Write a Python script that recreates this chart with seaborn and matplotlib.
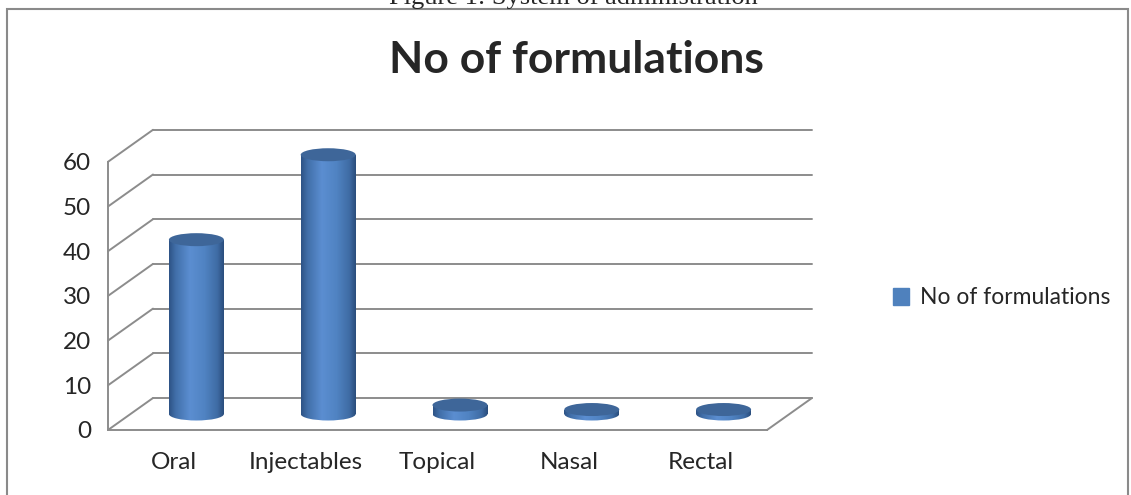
import numpy as np
import matplotlib.pyplot as plt
import matplotlib.patches as mpatches
import matplotlib.colors as mcolors
import seaborn as sns

# data
categories = ['Oral', 'Injectables', 'Topical', 'Nasal', 'Rectal']
formulations = [39, 58, 2, 1, 1]
y_ticks = [0, 10, 20, 30, 40, 50, 60]
series_name = 'No of formulations'
title = 'No of formulations'
caption = 'Figure 1: System of administration'

sns.set_style('white')
plt.rcParams['font.family'] = ['Lato', 'DejaVu Sans']

W, H = 1131, 495
fig = plt.figure(figsize=(W / 100, H / 100), dpi=100)

# pixel geometry of the fake 3D box
PX_CAT, PX_UNIT = 131.8, 4.47      # pixels per category / per unit
X0_PX, Y0_PX = 108, 430            # pixel of (x=-0.5, y=0)
L, T, R, B = 95, 115, 830, 445     # axes box in pixels
DX, DY = 45 / PX_CAT, 32 / PX_UNIT # depth offset in data units
grid_c = '#8c8c8c'

rect = [L / W, 1 - B / H, (R - L) / W, (B - T) / H]
xlim = (-0.5 - (X0_PX - L) / PX_CAT, -0.5 + (R - X0_PX) / PX_CAT)
ylim = ((Y0_PX - B) / PX_UNIT, (Y0_PX - T) / PX_UNIT)

ax = fig.add_axes(rect)
ax.set_xlim(xlim)
ax.set_ylim(ylim)
n = len(categories)

# back wall, side wall and floor
for t in y_ticks:
    ax.plot([-0.5 + DX, n - 0.5 + DX], [t + DY, t + DY], color=grid_c, lw=1.4, zorder=1)
    ax.plot([-0.5, -0.5 + DX], [t, t + DY], color=grid_c, lw=1.4, zorder=1)
ax.plot([n - 0.5, n - 0.5 + DX], [0, DY], color=grid_c, lw=1.4, zorder=1)

# axes spines as the front edges
for s in ['top', 'right']:
    ax.spines[s].set_visible(False)
ax.spines['left'].set_position(('data', -0.5))
ax.spines['left'].set_bounds(0, max(y_ticks))
ax.spines['bottom'].set_position(('data', 0))
ax.spines['bottom'].set_bounds(-0.5, n - 0.5)
for s in ['left', 'bottom']:
    ax.spines[s].set_color(grid_c)
    ax.spines[s].set_linewidth(1.4)
ax.set_yticks(y_ticks)
ax.set_yticklabels([str(t) for t in y_ticks], fontsize=17.5)
ax.set_xticks(np.arange(n + 1) - 0.5)
ax.set_xticklabels([])
ax.set_xticks(np.arange(n), minor=True)
ax.set_xticklabels(categories, minor=True, fontsize=17.5)
ax.tick_params(axis='both', which='major', direction='out', length=5, width=1.4, color=grid_c)
ax.tick_params(axis='y', pad=7)
ax.tick_params(axis='x', which='minor', length=0, pad=16)

# cylinders on a twin axes shifted half the depth
ax2 = fig.add_axes(rect)
ax2.patch.set_alpha(0)
bar_w = 55 / PX_CAT
sns.barplot(x=categories, y=formulations, ax=ax2, color='#4F81BD', width=bar_w,
            saturation=1, linewidth=0, zorder=3)
ax2.axis('off')

grad = mcolors.LinearSegmentedColormap.from_list('cyl', [
    (0.0, '#2E5386'), (0.12, '#416FA9'), (0.38, '#5B8ED1'),
    (0.65, '#5083C2'), (0.88, '#3F6CA5'), (1.0, '#2B4E7D')])
g = grad(np.linspace(0, 1, 200))[None, :, :]
eh = 13 / PX_UNIT

for p in list(ax2.patches):
    x, w, h = p.get_x(), p.get_width(), p.get_height()
    cx = x + w / 2
    bottom = mpatches.Ellipse((cx, 0), w, eh, lw=0, facecolor='none', zorder=2)
    ax2.add_patch(bottom)
    for clip, z in [(bottom, 2.5), (p, 3.5)]:
        im = ax2.imshow(g, extent=[x, x + w, -eh, h + eh], aspect='auto', zorder=z)
        im.set_clip_path(clip)
    ax2.add_patch(mpatches.Ellipse((cx, h), w, eh, lw=0, facecolor='#3E6699', zorder=4))

ax2.set_xlim(xlim[0] - DX / 2, xlim[1] - DX / 2)
ax2.set_ylim(ylim[0] - DY / 2, ylim[1] - DY / 2)

# legend
handle = mpatches.Patch(color='#4F81BD', label=series_name)
fig.legend(handles=[handle], loc='center left', bbox_to_anchor=(884 / W, 1 - 298 / H),
           frameon=False, fontsize=16.5, handlelength=0.7, handleheight=0.7,
           handletextpad=0.45, borderaxespad=0)

fig.text(576 / W, 1 - 60 / H, title, fontsize=32, fontweight='bold', ha='center', va='center')
fig.text(573 / W, 1 - 4 / H, caption, family=['Liberation Serif'], fontsize=19,
         ha='center', va='baseline')

# outer frame of the chart
fig.add_artist(mpatches.Rectangle((7 / W, -0.01), (1128 - 7) / W, (H - 8.5) / H + 0.01,
                                  transform=fig.transFigure, fill=False,
                                  edgecolor='#8a8a8a', lw=1.5))

fig.savefig('out.png', dpi=100)
